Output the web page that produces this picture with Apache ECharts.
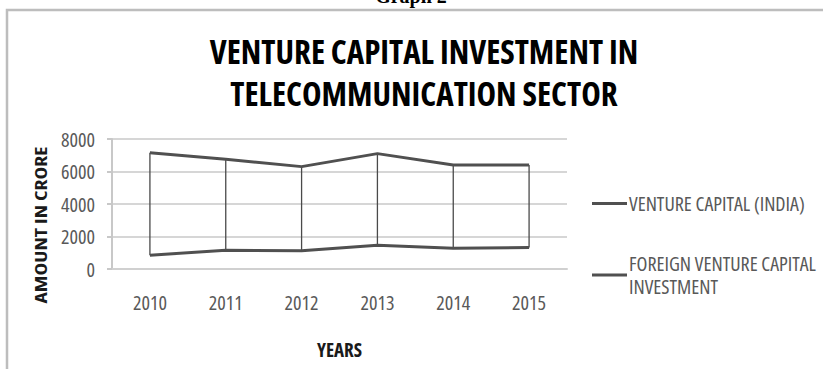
<!DOCTYPE html>
<html>
<head>
<meta charset="utf-8">
<script src="https://cdn.jsdelivr.net/npm/echarts@6/dist/echarts.min.js"></script>
<style>
  html, body { margin: 0; padding: 0; background: #ffffff; }
  #chart { width: 823px; height: 369px; }
  /* narrow face for every chart text */
  #chart svg text { font-stretch: condensed !important; }
</style>
</head>
<body>
<div id="chart"></div>
<script>
// Venture capital investment in the telecommunication sector (amount in crore)
const years = ['2010', '2011', '2012', '2013', '2014', '2015'];
const ventureIndia = [7160, 6750, 6300, 7100, 6400, 6400];
const foreignVenture = [850, 1150, 1130, 1460, 1280, 1320];
const yTicks = [0, 2000, 4000, 6000, 8000];

const seriesNames = ['VENTURE CAPITAL (INDIA)', 'FOREIGN VENTURE CAPITAL INVESTMENT'];
const FONT = '"Open Sans", "Noto Sans", sans-serif';

// high-low connectors between the two series for each year
const highLow = years.map((y, i) => [i,
  Math.min(ventureIndia[i], foreignVenture[i]),
  Math.max(ventureIndia[i], foreignVenture[i])]);

const chart = echarts.init(document.getElementById('chart'), null, { renderer: 'svg' });

chart.setOption({
  backgroundColor: '#ffffff',
  animation: false,
  title: {
    text: 'VENTURE CAPITAL INVESTMENT IN\nTELECOMMUNICATION SECTOR',
    left: 419,
    top: 25,
    textAlign: 'center',
    textStyle: {
      fontFamily: FONT,
      fontWeight: 'bold',
      fontSize: 33,
      lineHeight: 42,
      color: '#000000'
    }
  },
  graphic: [
    {
      type: 'rect',
      shape: { x: 7, y: 10, width: 840, height: 400 },
      style: { fill: 'none', stroke: '#bdbdbd', lineWidth: 2.5 },
      silent: true
    },
    {
      type: 'text',
      x: 411, y: 6,
      style: {
        text: 'Graph 2',
        font: 'bold 20px "Liberation Serif", serif',
        fill: '#000000',
        align: 'center',
        verticalAlign: 'bottom'
      },
      silent: true
    },
    {
      type: 'text',
      x: 41, y: 225,
      rotation: Math.PI / 2,
      scaleX: 1.35,
      style: {
        text: 'AMOUNT IN CRORE',
        font: 'bold 16px ' + FONT,
        fill: '#1a1a1a',
        align: 'center',
        verticalAlign: 'middle'
      },
      silent: true
    }
  ],
  legend: [
    {
      data: [seriesNames[0]],
      orient: 'vertical',
      left: 592,
      top: 192,
      padding: 0,
      itemWidth: 35,
      itemHeight: 3,
      itemGap: 0,
      icon: 'rect',
      textStyle: { fontFamily: FONT, fontSize: 20, lineHeight: 23, color: '#595959', padding: [0, 0, 0, -3] }
    },
    {
      data: [seriesNames[1]],
      orient: 'vertical',
      left: 592,
      top: 229,
      padding: 0,
      itemWidth: 35,
      itemHeight: 3,
      itemGap: 0,
      icon: 'rect',
      formatter: () => 'FOREIGN VENTURE CAPITAL\nINVESTMENT',
      textStyle: { fontFamily: FONT, fontSize: 20, lineHeight: 23, color: '#595959', padding: [46, 0, 0, -3] }
    }
  ],
  grid: { left: 112, right: 256, top: 139, bottom: 100, containLabel: false },
  xAxis: {
    type: 'category',
    data: years,
    boundaryGap: true,
    name: 'YEARS',
    nameLocation: 'middle',
    nameGap: 71,
    nameTextStyle: { fontFamily: FONT, fontWeight: 'bold', fontSize: 19, color: '#1a1a1a' },
    axisLine: { show: true, lineStyle: { color: '#d0d0d0', width: 2 } },
    axisTick: { show: false },
    axisLabel: { margin: 23, fontFamily: FONT, fontSize: 20, color: '#595959' },
    splitLine: { show: false }
  },
  yAxis: {
    type: 'value',
    min: yTicks[0],
    max: yTicks[yTicks.length - 1],
    interval: yTicks[1] - yTicks[0],
    axisLine: { show: true, lineStyle: { color: '#c8c8c8', width: 2 } },
    axisTick: { show: true, inside: false, length: 5, lineStyle: { color: '#c8c8c8', width: 2 } },
    axisLabel: { margin: 17, fontFamily: FONT, fontSize: 20, color: '#595959', formatter: v => String(v) },
    splitLine: { show: true, lineStyle: { color: '#d6d6d6', width: 2 } }
  },
  series: [
    {
      type: 'custom',
      name: 'high-low',
      data: highLow,
      z: 2,
      renderItem: (params, api) => {
        const p1 = api.coord([api.value(0), api.value(1)]);
        const p2 = api.coord([api.value(0), api.value(2)]);
        return {
          type: 'line',
          shape: { x1: p1[0], y1: p1[1], x2: p2[0], y2: p2[1] },
          style: { stroke: '#4a4a4a', lineWidth: 1.3 }
        };
      }
    },
    {
      type: 'line',
      name: seriesNames[0],
      data: ventureIndia,
      symbol: 'none',
      z: 3,
      color: '#505050',
      lineStyle: { color: '#505050', width: 3 }
    },
    {
      type: 'line',
      name: seriesNames[1],
      data: foreignVenture,
      symbol: 'none',
      z: 3,
      color: '#505050',
      lineStyle: { color: '#505050', width: 3 }
    }
  ]
});
</script>
</body>
</html>
